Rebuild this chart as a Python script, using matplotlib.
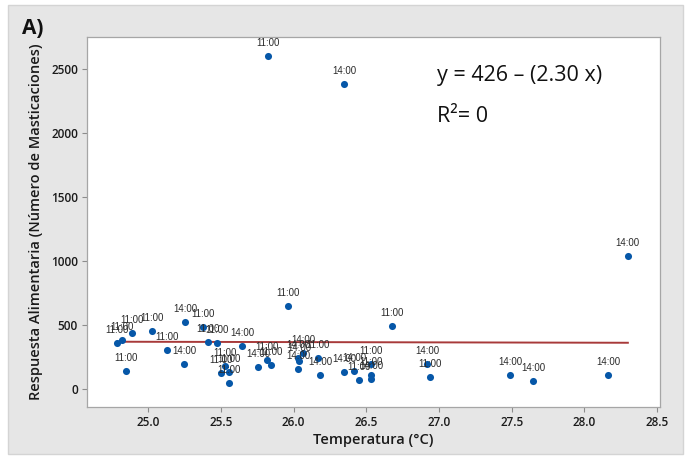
import matplotlib
matplotlib.use("Agg")
import matplotlib.pyplot as plt
from matplotlib.patches import Rectangle

# Temperature (°C) and feeding response (number of chews), with the hour of each record
temperatura = [24.787, 24.821, 24.890, 25.027, 25.254, 25.378, 25.131, 25.412, 25.474,
               25.646, 24.849, 25.247, 25.529, 25.502, 25.557, 25.557, 25.756, 25.818,
               25.845, 25.962, 26.031, 26.038, 26.031, 26.065, 26.168, 26.182, 26.347,
               26.416, 26.450, 26.533, 26.533, 26.533, 26.677, 26.918, 26.938, 27.488,
               27.646, 28.162, 28.299, 25.825, 26.347]
masticaciones = [359, 383, 438, 453, 523, 484, 305, 367, 359,
                 336, 141, 195, 180, 125, 133, 47, 172, 227,
                 188, 648, 156, 219, 242, 281, 242, 109, 133,
                 141, 70, 195, 109, 78, 492, 195, 94, 109,
                 63, 109, 1039, 2602, 2383]
hora = ["11:00", "11:00", "11:00", "11:00", "14:00", "11:00", "11:00", "11:00", "11:00",
        "14:00", "11:00", "14:00", "11:00", "11:00", "11:00", "11:00", "14:00", "11:00",
        "11:00", "11:00", "14:00", "14:00", "14:00", "14:00", "11:00", "14:00", "14:00",
        "14:00", "11:00", "11:00", "11:00", "14:00", "11:00", "14:00", "11:00", "14:00",
        "14:00", "14:00", "14:00", "11:00", "14:00"]

# Fitted line y = b0 + b1 x
b0, b1 = 426, -2.30

xticks = [25.0, 25.5, 26.0, 26.5, 27.0, 27.5, 28.0, 28.5]
yticks = [0, 500, 1000, 1500, 2000, 2500]

W, H = 685, 457
fig = plt.figure(figsize=(W / 100, H / 100), dpi=100)
fig.patch.set_facecolor("white")
panel = Rectangle((8 / W, 3 / H), 675 / W, 449 / H, transform=fig.transFigure,
                  facecolor="#e6e6e6", edgecolor="#d4d4d4", linewidth=1.0, zorder=-10)
fig.add_artist(panel)

ax = fig.add_axes([87 / W, 1 - 407 / H, (660 - 87) / W, (407 - 37) / H])
ax.set_zorder(1)
ax.set_facecolor("white")
ax.set_xlim(24.58, 28.52)
ax.set_ylim(-141, 2750)

tick_font = dict(family=["Open Sans", "DejaVu Sans"], size=8.5, weight="semibold",
                 color="#1a1a1a")
ax.set_xticks(xticks)
ax.set_xticklabels([f"{t:.1f}" for t in xticks], **tick_font)
ax.set_yticks(yticks)
ax.set_yticklabels([str(t) for t in yticks], **tick_font)
ax.tick_params(length=3.5, width=0.8, color="#8c8c8c", pad=3)
for s in ax.spines.values():
    s.set_color("#a6a6a6")
    s.set_linewidth(0.9)

label_font = dict(family=["Open Sans", "DejaVu Sans"], size=10.5, weight="semibold",
                  color="#1a1a1a")
ax.set_xlabel("Temperatura (°C)", labelpad=3, **label_font)
ax.set_ylabel("Respuesta Alimentaria (Número de Masticaciones)", labelpad=6, **label_font)

# Regression line over the observed temperature range
x0, x1 = min(temperatura), max(temperatura)
ax.plot([x0, x1], [b0 + b1 * x0, b0 + b1 * x1], color="#a83a3a", linewidth=1.4, zorder=2)

ax.scatter(temperatura, masticaciones, s=26, color="#0657a8", zorder=3, linewidths=0)
for t, m, h in zip(temperatura, masticaciones, hora):
    ax.annotate(h, (t, m), xytext=(0, 9.5), textcoords="offset points",
                ha="center", va="center", fontsize=7,
                family=["Liberation Sans", "DejaVu Sans"], color="#2b2b2b", zorder=4)

eq_font = dict(family=["Open Sans", "DejaVu Sans"], size=15.5, weight="medium",
               color="#111111", transform=fig.transFigure, va="center", ha="left",
               zorder=5)
fig.text(437 / W, 1 - 75 / H, f"y = {b0} – ({abs(b1):.2f} x)", **eq_font)
fig.text(437 / W, 1 - 117 / H, "R²= 0", **eq_font)

fig.text(22 / W, 1 - 29 / H, "A)", family=["Open Sans", "DejaVu Sans"], size=15,
         weight="bold", color="#111111", va="center", ha="left")

fig.savefig("out.png", dpi=100, facecolor=fig.get_facecolor())
